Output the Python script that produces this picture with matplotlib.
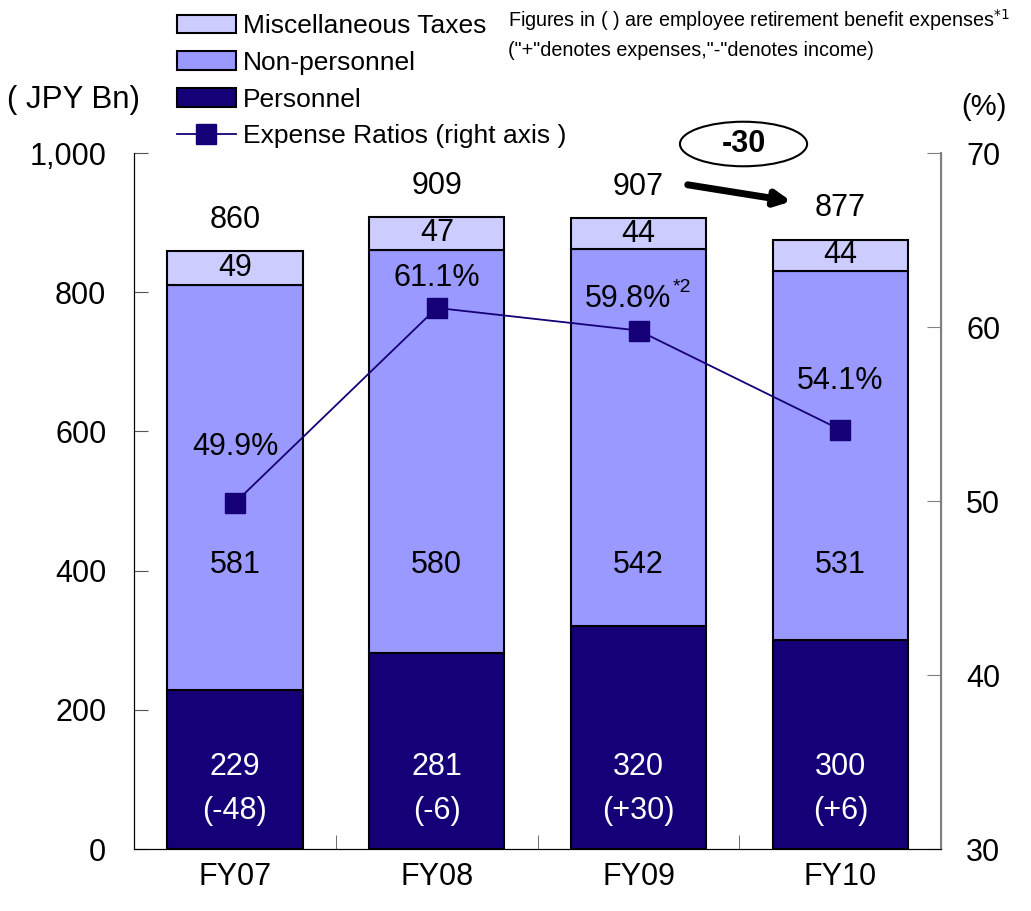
import matplotlib
matplotlib.use("Agg")
import matplotlib.pyplot as plt
from matplotlib.patches import Ellipse

plt.rcParams['font.family'] = ['Liberation Sans', 'DejaVu Sans']

years = ["FY07", "FY08", "FY09", "FY10"]
personnel = [229, 281, 320, 300]
retirement = ["(-48)", "(-6)", "(+30)", "(+6)"]
non_personnel = [581, 580, 542, 531]
misc_taxes = [49, 47, 44, 44]
totals = [860, 909, 907, 877]
ratios = [49.9, 61.1, 59.8, 54.1]

c_pers = "#160078"
c_nonp = "#9999ff"
c_misc = "#ccccff"

fig = plt.figure(figsize=(10.31, 9.11), dpi=100)
ax = fig.add_axes([0.130, 0.068, 0.783, 0.764])
ax2 = ax.twinx()

x = list(range(len(years)))
w = 0.67
b1 = ax.bar(x, personnel, w, color=c_pers, edgecolor="black", linewidth=1.5, label="Personnel")
b2 = ax.bar(x, non_personnel, w, bottom=personnel, color=c_nonp, edgecolor="black", linewidth=1.5,
            label="Non-personnel")
bottom3 = [p + n for p, n in zip(personnel, non_personnel)]
b3 = ax.bar(x, misc_taxes, w, bottom=bottom3, color=c_misc, edgecolor="black", linewidth=1.5,
            label="Miscellaneous Taxes")

ax.set_xlim(-0.5, 3.5)
ax.set_ylim(0, 1000)
ax.set_yticks([0, 200, 400, 600, 800, 1000])
ax.set_yticklabels(["0", "200", "400", "600", "800", "1,000"])
ax.set_xticks(x)
ax.set_xticklabels(years)
ax.set_xticks([0.5, 1.5, 2.5], minor=True)
ax.tick_params(axis="x", which="major", length=0, pad=9, labelsize=22)
ax.tick_params(axis="x", which="minor", direction="in", length=10, color="#555555")
ax.tick_params(axis="y", direction="in", length=10, labelsize=22, pad=20, color="#555555")
ax.spines["top"].set_visible(False)
ax2.spines["top"].set_visible(False)
ax2.spines["right"].set_color("#808080")
ax2.spines["right"].set_linewidth(1.5)

ln, = ax2.plot(x, ratios, color=c_pers, linewidth=1.3, marker="s", markersize=15,
               markerfacecolor=c_pers, markeredgecolor=c_pers, label="Expense Ratios (right axis )")
ax2.set_ylim(30, 70)
ax2.set_yticks([30, 40, 50, 60, 70])
ax2.tick_params(axis="y", direction="in", length=10, labelsize=22, pad=18, color="#808080")

# labels in bars
for i in x:
    ax.text(i, totals[i] + 22, str(totals[i]), ha="center", va="bottom", fontsize=22)
    ax.text(i, bottom3[i] + misc_taxes[i] / 2, str(misc_taxes[i]), ha="center", va="center", fontsize=22)
    ax.text(i, 408, str(non_personnel[i]), ha="center", va="center", fontsize=22)
    ax.text(i, 86, f"{personnel[i]}\n{retirement[i]}", ha="center", va="center", fontsize=22,
            color="white", linespacing=1.6)

lab_off = [3.2, 1.7, 1.8, 2.8]
lab_dx = [0, 0, -0.05, 0]
for i in x:
    ax2.text(i + lab_dx[i], ratios[i] + lab_off[i], f"{ratios[i]}%", ha="center", va="center", fontsize=22)
ax2.text(2.17, 62.3, "*2", ha="left", va="center", fontsize=14)

# change annotation
ax.annotate("", xy=(2.77, 930), xytext=(2.23, 955),
            arrowprops=dict(arrowstyle="-|>,head_length=0.9,head_width=0.45", color="black", lw=5))
ax.add_patch(Ellipse((2.52, 1013), 0.63, 64, facecolor="white", edgecolor="black", linewidth=1.5,
                     clip_on=False))
ax.text(2.52, 1013, "-30", ha="center", va="center", fontsize=22, fontweight="bold")

fig.text(0.007, 0.89, "( JPY Bn)", fontsize=22.5, va="center")
fig.text(0.932, 0.882, "(%)", fontsize=21, va="center")
fig.text(0.493, 0.978, "Figures in ( ) are employee retirement benefit expenses$^{*1}$", fontsize=14.2, va="center")
fig.text(0.493, 0.945, '("+"denotes expenses,"-"denotes income)', fontsize=14.2, va="center")

fig.legend([b3, b2, b1, ln], ["Miscellaneous Taxes", "Non-personnel", "Personnel", "Expense Ratios (right axis )"],
           loc="upper left", bbox_to_anchor=(0.161, 0.996), frameon=False, fontsize=19,
           handlelength=2.25, handleheight=0.7, labelspacing=0.48, handletextpad=0.28, borderaxespad=0)

fig.savefig("out.png", dpi=100)
